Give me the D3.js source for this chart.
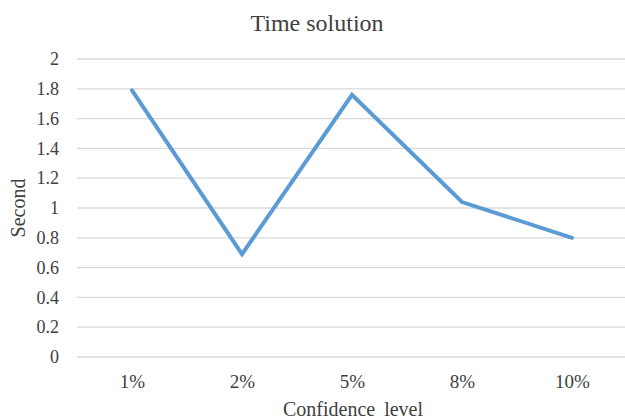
<!DOCTYPE html>
<html>
<head>
<meta charset="utf-8">
<script src="https://cdn.jsdelivr.net/npm/d3@7"></script>
<style>
  body { margin: 0; background: #fff; }
  text { font-family: "Liberation Serif", "Times New Roman", serif; fill: #404040; }
</style>
</head>
<body>
<div id="chart"></div>
<script>
// chart data
const categories = ['1%', '2%', '5%', '8%', '10%'];
const seconds = [1.79, 0.69, 1.76, 1.04, 0.80];
const yTicks = [0, 0.2, 0.4, 0.6, 0.8, 1, 1.2, 1.4, 1.6, 1.8, 2];

const width = 625, height = 420;
const margin = { top: 59, right: -2, bottom: 63, left: 77 };
const serif = 'Liberation Serif, serif';

const svg = d3.select('#chart').append('svg')
  .attr('width', width)
  .attr('height', height);

const x = d3.scalePoint()
  .domain(categories)
  .range([margin.left, width - margin.right])
  .padding(0.5);

const y = d3.scaleLinear()
  .domain([0, 2])
  .range([height - margin.bottom, margin.top]);

// gridlines
svg.append('g')
  .selectAll('line')
  .data(yTicks)
  .enter()
  .append('line')
  .attr('x1', margin.left)
  .attr('x2', width - margin.right)
  .attr('y1', d => y(d))
  .attr('y2', d => y(d))
  .style('stroke', '#d9d9d9')
  .style('stroke-width', 1.3);

// y axis labels
const yAxis = d3.axisLeft(y).tickValues(yTicks).tickSize(0).tickPadding(0)
  .tickFormat(d3.format('~g'));
svg.append('g')
  .attr('transform', 'translate(' + (margin.left - 18) + ',0)')
  .call(yAxis)
  .attr('font-family', serif)
  .attr('font-size', 18)
  .call(g => g.select('.domain').remove())
  .selectAll('text')
  .attr('font-family', serif)
  .style('font-family', serif)
  .style('font-size', '18px')
  .style('fill', '#404040');

// x axis labels
const xAxis = d3.axisBottom(x).tickSize(0).tickPadding(0);
svg.append('g')
  .attr('transform', 'translate(0,' + (y(0) + 17) + ')')
  .call(xAxis)
  .attr('font-family', serif)
  .attr('font-size', 19)
  .call(g => g.select('.domain').remove())
  .selectAll('text')
  .attr('font-family', serif)
  .style('font-family', serif)
  .style('font-size', '19px')
  .style('fill', '#404040');

// the line
const line = d3.line()
  .x((d, i) => x(categories[i]))
  .y(d => y(d));

svg.append('path')
  .datum(seconds)
  .attr('d', line)
  .style('fill', 'none')
  .style('stroke', '#5b9bd5')
  .style('stroke-width', 4)
  .style('stroke-linecap', 'round')
  .style('stroke-linejoin', 'miter');

// titles
svg.append('text')
  .attr('x', 317)
  .attr('y', 31)
  .attr('text-anchor', 'middle')
  .style('font-size', '24px')
  .text('Time solution');

svg.append('text')
  .attr('transform', 'translate(25,' + y(1) + ') rotate(-90)')
  .attr('text-anchor', 'middle')
  .style('font-size', '20px')
  .text('Second');

svg.append('text')
  .attr('x', 353)
  .attr('y', 416)
  .attr('text-anchor', 'middle')
  .style('font-size', '20px')
  .style('word-spacing', '4px')
  .text('Confidence level');
</script>
</body>
</html>
